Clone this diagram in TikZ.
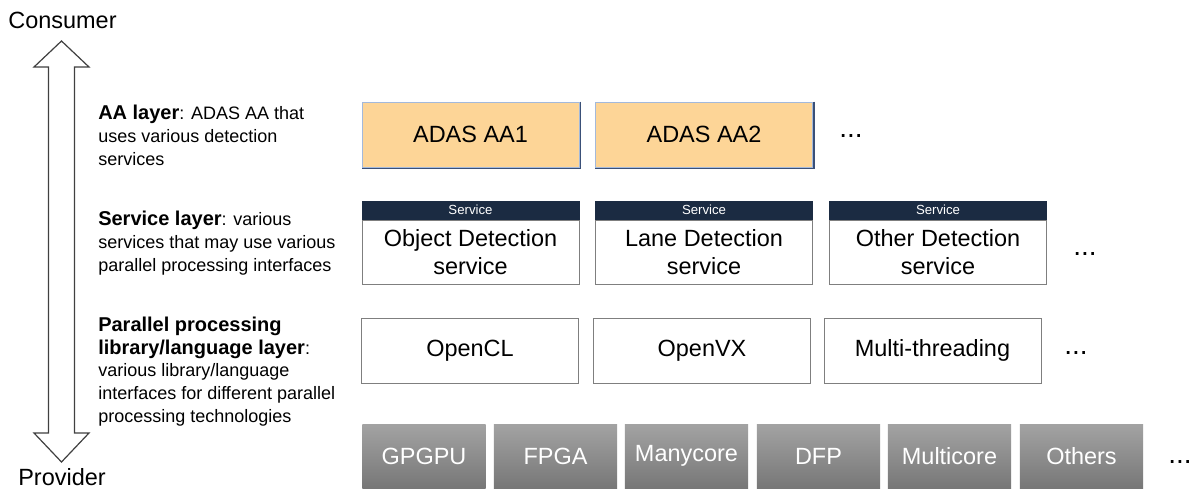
\documentclass[tikz,border=0pt]{standalone}
\usepackage{fontspec}
\setmainfont{Liberation Sans}
\definecolor{aafill}{HTML}{FDD597}
\definecolor{aaedge}{HTML}{A3B9DB}
\definecolor{aashade}{HTML}{3A5078}
\definecolor{svchead}{HTML}{1B2B42}
\definecolor{boxedge}{HTML}{7F7F7F}
\definecolor{hwtop}{HTML}{A3A3A3}
\definecolor{hwbot}{HTML}{777777}
\definecolor{arrowedge}{HTML}{404040}
\newcommand\boxfont{\fontsize{17.6}{20.6}\selectfont}
\newcommand\hdrfont{\fontsize{9.9}{11}\selectfont}
\newcommand\dotfont{\fontsize{21}{24}\selectfont}
\newcommand\layerfont{\fontsize{13.5}{16.9}\selectfont}
\newcommand\layerbold{\fontsize{15}{16.9}\selectfont\bfseries}
\begin{document}
\begin{tikzpicture}[x=0.75pt, y=-0.75pt,
  aabox/.style={draw=aaedge, line width=0.75pt, fill=aafill, minimum width=162.75pt, minimum height=48.75pt, inner sep=0pt, font=\boxfont},
  svcbox/.style={draw=boxedge, line width=0.75pt, fill=white, minimum width=162.75pt, minimum height=48pt, inner sep=0pt, align=center, font=\boxfont},
  svchdr/.style={draw=svchead, fill=svchead, text=white, minimum width=162.75pt, minimum height=13.5pt, inner sep=0pt, font=\hdrfont, anchor=south},
  libbox/.style={svcbox, minimum height=48.75pt},
  hwbox/.style={top color=hwtop, bottom color=hwbot, draw=none, text=white, minimum width=92.6pt, minimum height=48pt, inner sep=0pt, font=\boxfont},
  ellip/.style={font=\dotfont, anchor=base, inner sep=0pt},
  layertxt/.style={anchor=base west, align=left, inner sep=0pt, font=\layerfont},
  endtxt/.style={font=\boxfont, inner sep=0pt, anchor=base},
  aashadow/.style={draw=aashade, line width=1pt},
  bigarrow/.style={draw=arrowedge, line width=0.9pt, fill=white, line join=miter}]
   \useasboundingbox[fill=white] (0,0) rectangle (1192,489);
   % consumer / provider axis
   \node[endtxt] (consumer) at (62.5,28.3) {Consumer};
   \node[endtxt] (provider) at (62,485.5) {Provider};
   \draw[bigarrow] (61.5,41) -- (89,67) -- (74.5,67) -- (74.5,433) -- (89,433)
      -- (61.5,462) -- (34,433) -- (48.5,433) -- (48.5,67) -- (34,67) -- cycle;
   % layer descriptions (base = last line)
   \node[layertxt] (aatxt) at (98,165) {{\layerbold AA layer}: ADAS AA that\\uses various detection\\services};
   \node[layertxt] (svctxt) at (98,271) {{\layerbold Service layer}: various\\services that may use various\\parallel processing interfaces};
   \node[layertxt] (libtxt) at (98,422) {{\layerbold Parallel processing}\\{\layerbold library/language layer}:\\various library/language\\interfaces for different parallel\\processing technologies};
   % AA layer
   \node[aabox] (aa1) at (470.5,134.5) {ADAS AA1};
   \node[aabox] (aa2) at (704,134.5) {ADAS AA2};
   \draw[aashadow] ([xshift=0.8pt]aa1.north east) -- ([xshift=0.8pt,yshift=-0.8pt]aa1.south east) -- ([yshift=-0.8pt]aa1.south west);
   \draw[aashadow] ([xshift=0.8pt]aa2.north east) -- ([xshift=0.8pt,yshift=-0.8pt]aa2.south east) -- ([yshift=-0.8pt]aa2.south west);
   \node[ellip] (aadots) at (851,137.7) {...};
   % service layer
   \node[svcbox] (svc1) at (470.5,252) {Object Detection\\service};
   \node[svcbox] (svc2) at (704,252) {Lane Detection\\service};
   \node[svcbox] (svc3) at (938,252) {Other Detection\\service};
   \node[svchdr] (hdr1) at (svc1.north) {Service};
   \node[svchdr] (hdr2) at (svc2.north) {Service};
   \node[svchdr] (hdr3) at (svc3.north) {Service};
   \node[ellip] (svcdots) at (1085,255) {...};
   % library/language layer
   \node[libbox] (lib1) at (470,350.5) {OpenCL};
   \node[libbox] (lib2) at (702,350.5) {OpenVX};
   \node[libbox] (lib3) at (932.5,350.5) {Multi-threading};
   \node[ellip] (libdots) at (1076,354.7) {...};
   % hardware
   \node[hwbox] (hw1) at (424,456) {GPGPU};
   \node[hwbox] (hw2) at (555.5,456) {FPGA};
   \node[hwbox] (hw3) at (686.5,456) {Manycore};
   \node[hwbox] (hw4) at (818.5,456) {DFP};
   \node[hwbox] (hw5) at (949.5,456) {Multicore};
   \node[hwbox] (hw6) at (1081.5,456) {Others};
   \node[ellip] (hwdots) at (1180,463.4) {...};
\end{tikzpicture}
\end{document}
